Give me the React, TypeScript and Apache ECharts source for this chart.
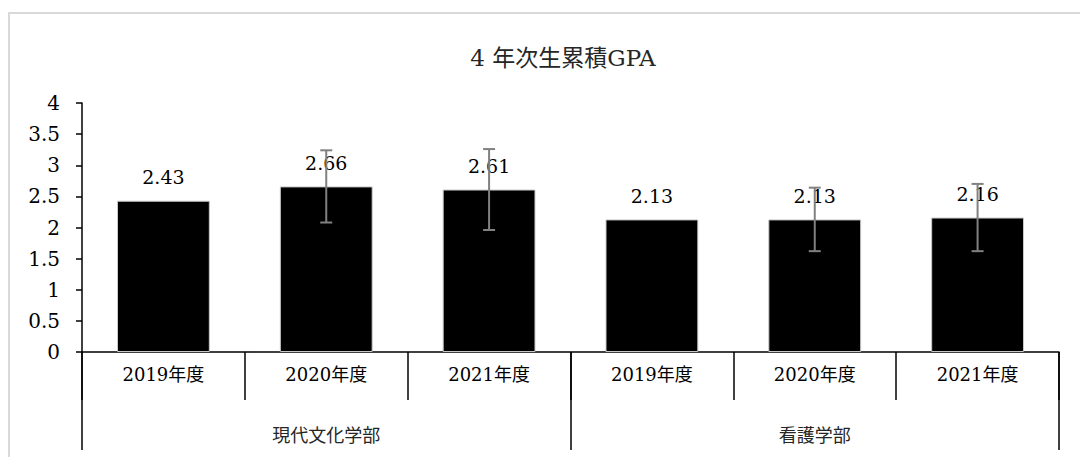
import React, { useEffect, useRef } from "react";
import * as echarts from "echarts";

const categories = ["2019年度", "2020年度", "2021年度", "2019年度", "2020年度", "2021年度"];
const groups = ["現代文化学部", "看護学部"];
const values = [2.43, 2.66, 2.61, 2.13, 2.13, 2.16];
const errors = [0, 0.58, 0.65, 0, 0.51, 0.54];
const title = "4 年次生累積GPA";

const FONT = "'DejaVu Serif', 'Times New Roman', 'Noto Sans CJK JP', serif";

export default function App() {
  const ref = useRef<HTMLDivElement>(null);
  useEffect(() => {
    document.body.style.margin = "0";
    const chart = echarts.init(ref.current!, undefined, { renderer: "svg" });
    const errData = values
      .map((v, i) => ({ i, v, e: errors[i] }))
      .filter((d) => d.e > 0)
      .map((d) => [d.i, d.v - d.e, d.v + d.e]);
    chart.setOption({
      animation: false,
      backgroundColor: "#fff",
      textStyle: { fontFamily: FONT },
      title: {
        text: title,
        left: 558,
        top: 41,
        textAlign: "center",
        textStyle: { fontFamily: FONT, fontSize: 23, fontWeight: "normal", color: "#262626" },
      },
      graphic: [
        {
          type: "rect",
          shape: { x: 9, y: 13, width: 1100, height: 480 },
          style: { fill: "none", stroke: "#d9d9d9", lineWidth: 2 },
          silent: true,
        },
      ],
      grid: { left: 82, right: 21, top: 103, bottom: 105 },
      xAxis: [
        {
          type: "category",
          data: categories,
          axisLine: { show: true, lineStyle: { color: "#000", width: 1.5 } },
          axisTick: { show: true, interval: 0, length: 48, lineStyle: { color: "#000", width: 1.5 } },
          axisLabel: { interval: 0, margin: 13, fontFamily: FONT, fontSize: 18, color: "#000" },
        },
        {
          type: "category",
          data: groups,
          position: "bottom",
          axisLine: { show: false },
          axisTick: { show: true, interval: 0, length: 98, lineStyle: { color: "#000", width: 1.5 } },
          axisLabel: { interval: 0, margin: 74, fontFamily: FONT, fontSize: 18, color: "#262626" },
        },
      ],
      yAxis: {
        type: "value",
        min: 0,
        max: 4,
        interval: 0.5,
        splitLine: { show: false },
        axisLine: { show: true, lineStyle: { color: "#000", width: 1.5 } },
        axisTick: { show: true, length: 6, lineStyle: { color: "#000", width: 1.5 } },
        axisLabel: { margin: 22, fontFamily: FONT, fontSize: 20, color: "#000" },
      },
      series: [
        {
          type: "bar",
          data: values,
          barWidth: "57%",
          itemStyle: { color: "#000", borderColor: "#c8c8c8", borderWidth: 1 },
          label: {
            show: true,
            position: "top",
            distance: 14,
            fontFamily: FONT,
            fontSize: 19,
            color: "#000",
            formatter: (p: any) => p.value.toFixed(2),
          },
          z: 2,
        },
        {
          type: "custom",
          data: errData,
          z: 5,
          renderItem: (params: any, api: any) => {
            const idx = api.value(0);
            const lo = api.coord([idx, api.value(1)]);
            const hi = api.coord([idx, api.value(2)]);
            const hw = 6;
            const style = { stroke: "#808080", lineWidth: 2, fill: "none" };
            return {
              type: "group",
              children: [
                { type: "line", shape: { x1: lo[0], y1: lo[1], x2: hi[0], y2: hi[1] }, style },
                { type: "line", shape: { x1: lo[0] - hw, y1: lo[1], x2: lo[0] + hw, y2: lo[1] }, style },
                { type: "line", shape: { x1: hi[0] - hw, y1: hi[1], x2: hi[0] + hw, y2: hi[1] }, style },
              ],
            };
          },
        },
      ],
    });
    return () => chart.dispose();
  }, []);
  return <div ref={ref} style={{ width: 1080, height: 457 }} />;
}
